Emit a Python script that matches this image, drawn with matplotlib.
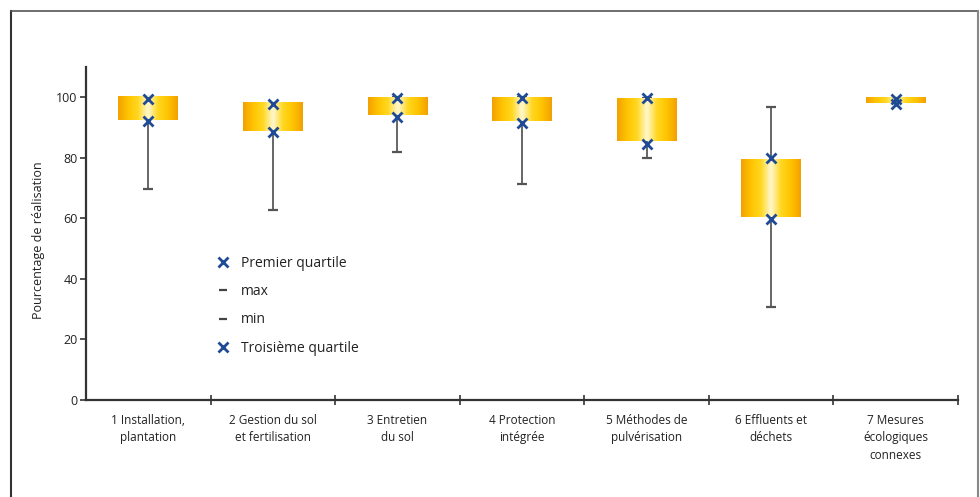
import numpy as np
import matplotlib
matplotlib.use("Agg")
import matplotlib.pyplot as plt
from matplotlib.colors import LinearSegmentedColormap
from matplotlib.lines import Line2D

plt.rcParams['font.family'] = ['Open Sans', 'DejaVu Sans']

categories = ["1 Installation,\nplantation", "2 Gestion du sol\net fertilisation",
              "3 Entretien\ndu sol", "4 Protection\nintégrée",
              "5 Méthodes de\npulvérisation", "6 Effluents et\ndéchets",
              "7 Mesures\nécologiques\nconnexes"]
box_low = [92.4, 88.8, 94.3, 92.1, 85.5, 60.5, 98.1]
box_high = [100, 98.1, 100, 100, 99.6, 79.6, 99.8]
q1 = [92, 88.6, 93.5, 91.5, 84.7, 59.7, 97.8]
q3 = [99.5, 97.9, 99.8, 99.8, 99.8, 80, 99.3]
vmin = [69.6, 62.7, 81.9, 71.3, 79.8, 30.6, 98]
vmax = [100, 98, 100, 100, 99.6, 96.8, 99.8]
yticks = [0, 20, 40, 60, 80, 100]

fig = plt.figure(figsize=(9.8, 4.97), dpi=100)
ax = fig.add_axes([0.0878, 0.1952, 0.8898, 0.67])

cmap = LinearSegmentedColormap.from_list(
    "g", ["#F2A000", "#FFC400", "#FFD820", "#FFF8D0", "#FFD820", "#FFC400", "#F2A000"])
grad = np.linspace(0, 1, 256).reshape(1, -1)

w = 0.48
for i in range(len(categories)):
    c = i + 0.5
    # whisker
    ax.plot([c, c], [vmin[i], vmax[i]], color="#666666", lw=1.4, zorder=1)
    ax.plot([c], [vmin[i]], marker="_", ms=7, mew=1.6, color="#555555", zorder=1)
    ax.plot([c], [vmax[i]], marker="_", ms=7, mew=1.6, color="#555555", zorder=1)
    # box
    ax.imshow(grad, cmap=cmap, aspect="auto", interpolation="bicubic",
              extent=(c - w / 2, c + w / 2, box_low[i], box_high[i]), zorder=2)
    ax.plot([c], [q1[i]], marker="x", ms=7.5, mew=2.0, color="#1F4B96", zorder=3)
    ax.plot([c], [q3[i]], marker="x", ms=7.5, mew=2.0, color="#1F4B96", zorder=3)

ax.set_xlim(0, len(categories))
ax.set_ylim(0, 110)
ax.set_yticks(yticks)
ax.set_yticklabels([str(t) for t in yticks], fontsize=9, color="#222222")
ax.set_xticks(range(1, len(categories) + 1))
ax.set_xticklabels([])
ax.set_xticks([i + 0.5 for i in range(len(categories))], minor=True)
ax.set_xticklabels(categories, minor=True, fontsize=8.5, color="#222222", va="top",
                   linespacing=1.45)
ax.tick_params(axis="x", which="major", direction="inout", length=7, width=1.2, color="#333333")
ax.tick_params(axis="x", which="minor", length=0, pad=10)
ax.tick_params(axis="y", direction="out", length=4, width=1.2, color="#333333", pad=2)
for s in ["top", "right"]:
    ax.spines[s].set_visible(False)
for s in ["left", "bottom"]:
    ax.spines[s].set_linewidth(1.6)
    ax.spines[s].set_color("#333333")
ax.set_ylabel("Pourcentage de réalisation", fontsize=9, color="#222222")
ax.yaxis.set_label_coords(-0.047, 0.48)

handles = [
    Line2D([], [], ls="none", marker="x", ms=7.5, mew=2.0, color="#1F4B96"),
    Line2D([], [], ls="none", marker="_", ms=6, mew=1.6, color="#444444"),
    Line2D([], [], ls="none", marker="_", ms=6, mew=1.6, color="#444444"),
    Line2D([], [], ls="none", marker="x", ms=7.5, mew=2.0, color="#1F4B96"),
]
labels = ["Premier quartile", "max", "min", "Troisième quartile"]
leg = ax.legend(handles, labels, loc="upper left", bbox_to_anchor=(0.135, 0.47),
                frameon=False, fontsize=10, handlelength=1.0, handletextpad=0.8,
                labelspacing=0.95)
for t in leg.get_texts():
    t.set_color("#222222")

# figure frame
fig.add_artist(Line2D([11 / 980, 11 / 980], [0, 1 - 11 / 497], transform=fig.transFigure,
                      color="#333333", lw=1.5))
fig.add_artist(Line2D([11 / 980, 978 / 980], [1 - 11 / 497, 1 - 11 / 497],
                      transform=fig.transFigure, color="#555555", lw=1.2))
fig.add_artist(Line2D([978 / 980, 978 / 980], [0, 1 - 11 / 497], transform=fig.transFigure,
                      color="#888888", lw=1.5))

fig.savefig("out.png", dpi=100)
